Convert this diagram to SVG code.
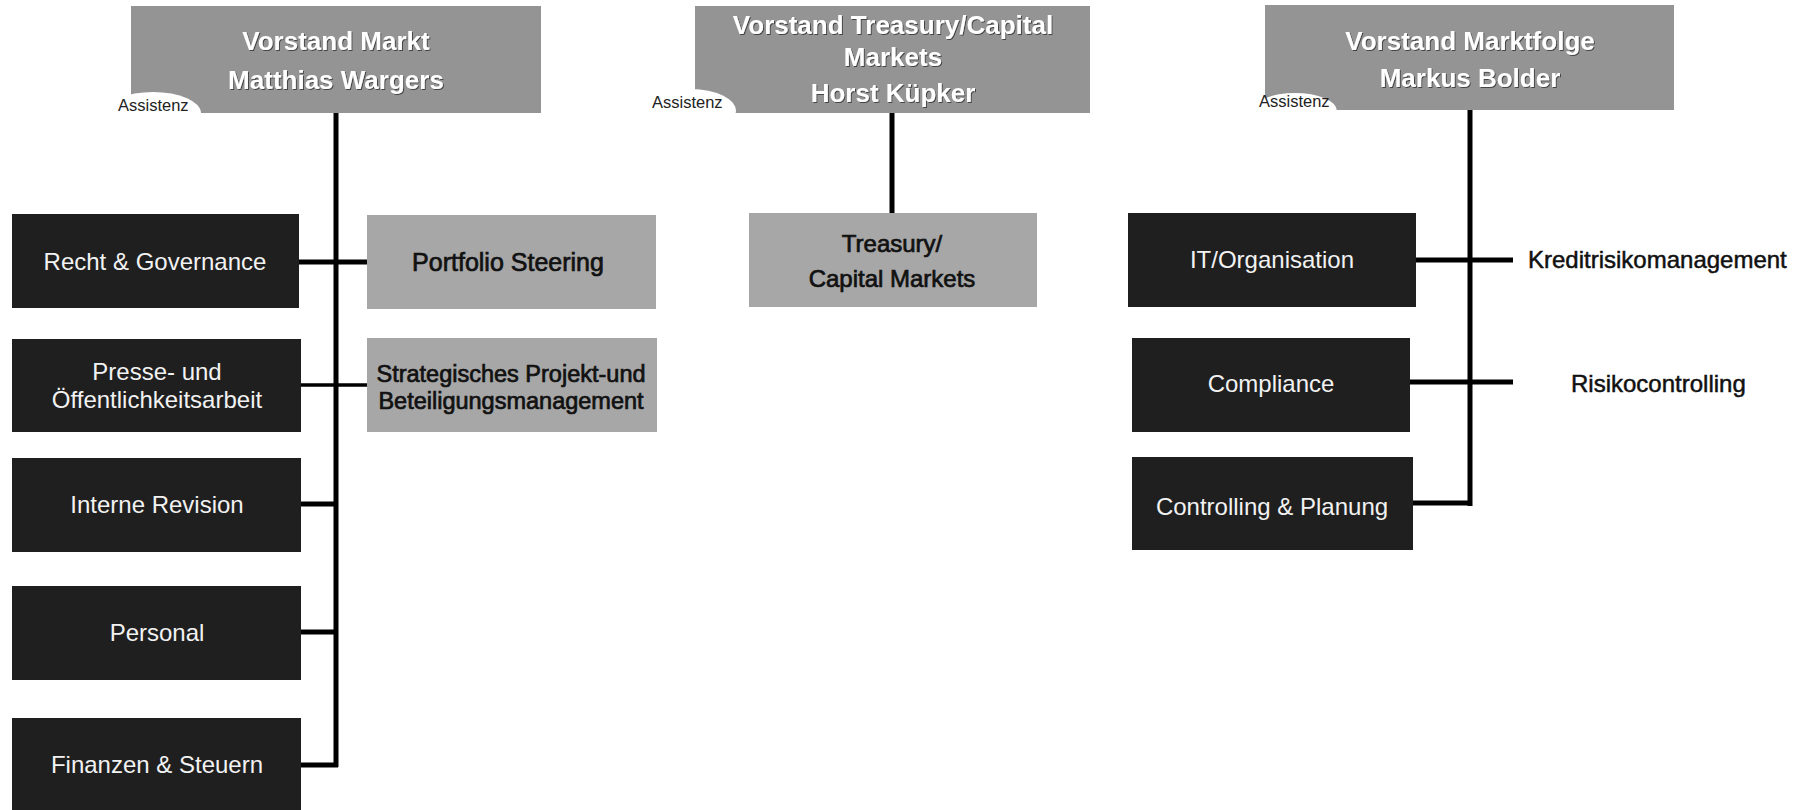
<svg xmlns="http://www.w3.org/2000/svg" width="1803" height="810" viewBox="0 0 1803 810">
<defs>
<filter id="sh" x="-5%" y="-20%" width="110%" height="140%">
<feDropShadow dx="1" dy="1" stdDeviation="0.6" flood-color="#3a3a3a" flood-opacity="0.9"/>
</filter>
</defs>
<style>
text{font-family:"Liberation Sans",Arial,sans-serif;}
.head{fill:#949494;}
.gray{fill:#a7a7a7;}
.dark{fill:#1f1f1f;}
.ht{fill:#ffffff;font-weight:bold;font-size:26px;text-anchor:middle;filter:url(#sh);}
.wt{fill:#f2f2f2;font-size:24px;text-anchor:middle;}
.bt{fill:#111111;font-size:24px;text-anchor:middle;stroke:#111111;stroke-width:0.7;}
.lt{fill:#111111;font-size:24px;stroke:#111111;stroke-width:0.5;}
.asst{fill:#ffffff;}
.at{fill:#222222;font-size:16.5px;}
.ln{stroke:#000000;stroke-width:5;fill:none;}
.thin{stroke:#000000;stroke-width:3.5;fill:none;}
</style>
<rect width="1803" height="810" fill="#ffffff"/>

<g id="connectors">
<line class="ln" x1="336" y1="113" x2="336" y2="767"/>
<line class="ln" x1="299" y1="262" x2="368" y2="262"/>
<line class="thin" x1="301" y1="385" x2="368" y2="385"/>
<line class="ln" x1="301" y1="504" x2="338" y2="504"/>
<line class="ln" x1="301" y1="632" x2="338" y2="632"/>
<line class="ln" x1="301" y1="765" x2="338" y2="765"/>
<line class="ln" x1="892" y1="113" x2="892" y2="213"/>
<line class="ln" x1="1470" y1="110" x2="1470" y2="506"/>
<line class="ln" x1="1414" y1="260" x2="1513" y2="260"/>
<line class="ln" x1="1410" y1="382" x2="1513" y2="382"/>
<line class="ln" x1="1413" y1="503" x2="1472" y2="503"/>
</g>

<g id="vorstand-markt">
<rect class="head" x="131" y="6" width="410" height="107"/>
<text class="ht" x="336" y="50">Vorstand Markt</text>
<text class="ht" x="336" y="89">Matthias Wargers</text>
</g>
<g id="assistenz-markt">
<ellipse class="asst" cx="153" cy="113" rx="48" ry="21"/>
<text class="at" x="118" y="111">Assistenz</text>
</g>

<g id="vorstand-treasury">
<rect class="head" x="695" y="6" width="395" height="107"/>
<text class="ht" x="893" y="34">Vorstand Treasury/Capital</text>
<text class="ht" x="893" y="66">Markets</text>
<text class="ht" x="893" y="102">Horst Küpker</text>
</g>
<g id="assistenz-treasury">
<ellipse class="asst" cx="691" cy="111" rx="45" ry="22"/>
<text class="at" x="652" y="108">Assistenz</text>
</g>

<g id="vorstand-marktfolge">
<rect class="head" x="1265" y="5" width="409" height="105"/>
<text class="ht" x="1470" y="50">Vorstand Marktfolge</text>
<text class="ht" x="1470" y="87">Markus Bolder</text>
</g>
<g id="assistenz-marktfolge">
<ellipse class="asst" cx="1295" cy="111" rx="42" ry="18"/>
<text class="at" x="1259" y="107">Assistenz</text>
</g>

<g id="recht">
<rect class="dark" x="12" y="214" width="287" height="94"/>
<text class="wt" x="155" y="270">Recht &amp; Governance</text>
</g>
<g id="presse">
<rect class="dark" x="12" y="339" width="289" height="93"/>
<text class="wt" x="157" y="380">Presse- und</text>
<text class="wt" x="157" y="408">Öffentlichkeitsarbeit</text>
</g>
<g id="revision">
<rect class="dark" x="12" y="458" width="289" height="94"/>
<text class="wt" x="157" y="513">Interne Revision</text>
</g>
<g id="personal">
<rect class="dark" x="12" y="586" width="289" height="94"/>
<text class="wt" x="157" y="641">Personal</text>
</g>
<g id="finanzen">
<rect class="dark" x="12" y="718" width="289" height="92"/>
<text class="wt" x="157" y="773">Finanzen &amp; Steuern</text>
</g>

<g id="portfolio">
<rect class="gray" x="367" y="215" width="289" height="94"/>
<text class="bt" x="508" y="271" style="font-size:25px">Portfolio Steering</text>
</g>
<g id="strategisches">
<rect class="gray" x="367" y="338" width="290" height="94"/>
<text class="bt" x="511" y="382" style="font-size:23.5px">Strategisches Projekt-und</text>
<text class="bt" x="511" y="409" style="font-size:23.5px">Beteiligungsmanagement</text>
</g>

<g id="treasury">
<rect class="gray" x="749" y="213" width="288" height="94"/>
<text class="bt" x="892" y="252">Treasury/</text>
<text class="bt" x="892" y="287">Capital Markets</text>
</g>

<g id="it">
<rect class="dark" x="1128" y="213" width="288" height="94"/>
<text class="wt" x="1272" y="268">IT/Organisation</text>
</g>
<g id="compliance">
<rect class="dark" x="1132" y="338" width="278" height="94"/>
<text class="wt" x="1271" y="392">Compliance</text>
</g>
<g id="controlling">
<rect class="dark" x="1132" y="457" width="281" height="93"/>
<text class="wt" x="1272" y="515">Controlling &amp; Planung</text>
</g>

<g id="kreditrisiko">
<text class="lt" x="1528" y="268">Kreditrisikomanagement</text>
</g>
<g id="risikocontrolling">
<text class="lt" x="1571" y="392">Risikocontrolling</text>
</g>
</svg>
